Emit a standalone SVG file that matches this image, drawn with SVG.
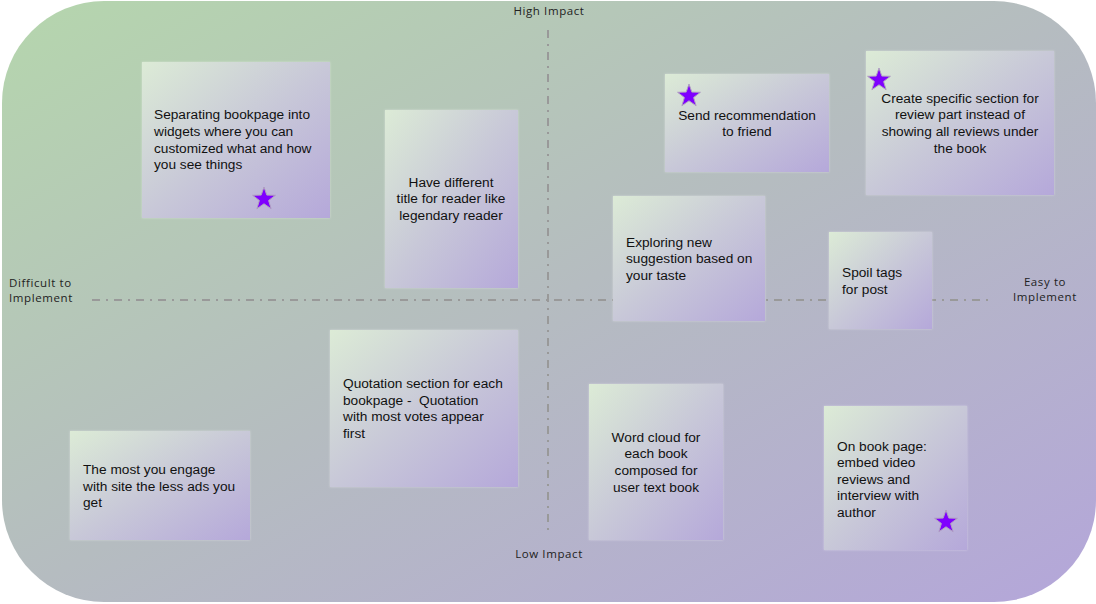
<svg xmlns="http://www.w3.org/2000/svg" width="1096" height="604" viewBox="0 0 1096 604">
<defs>
<linearGradient id="bg" x1="0" y1="0" x2="1" y2="1">
<stop offset="0" stop-color="#b5d6ad"/>
<stop offset="0.5" stop-color="#b5bcc0"/>
<stop offset="1" stop-color="#b4a6da"/>
</linearGradient>
<linearGradient id="note" x1="0" y1="0" x2="1" y2="1">
<stop offset="0" stop-color="#dcebd6"/>
<stop offset="0.5" stop-color="#c8c8d8"/>
<stop offset="1" stop-color="#b5a8da"/>
</linearGradient>
<filter id="sh" x="-10%" y="-10%" width="120%" height="120%">
<feDropShadow dx="0" dy="0" stdDeviation="1" flood-color="#ffffff" flood-opacity="0.4"/>
</filter>
<polygon id="star" points="0,-12 2.8,-3.9 11.4,-3.7 4.6,1.5 7.1,9.7 0,4.8 -7.1,9.7 -4.6,1.5 -11.4,-3.7 -2.8,-3.9" fill="#7f00ff" stroke="#b0a0c0" stroke-width="1"/>
</defs>
<style>
.n{fill:url(#note);filter:url(#sh)}
.t{font-family:"Liberation Sans",Arial,sans-serif;font-size:13.7px;fill:#111;white-space:pre}
.c{text-anchor:middle}
.ax{font-family:"Open Sans","Noto Sans",sans-serif;font-size:11.5px;letter-spacing:0.6px;fill:#222}
.ln{stroke:#999;stroke-width:2;stroke-dasharray:8 6 2 6;fill:none}
</style>
<rect x="2" y="1" width="1094" height="601" rx="102" ry="102" fill="url(#bg)"/>
<g id="axes">
<line class="ln" x1="548" y1="30" x2="548" y2="530"/>
<line class="ln" x1="92" y1="300" x2="990" y2="300"/>
<text class="ax" x="549" y="15" text-anchor="middle">High Impact</text>
<text class="ax" x="549" y="558" text-anchor="middle">Low Impact</text>
<text class="ax" x="9" y="287">Difficult to</text>
<text class="ax" x="9" y="302">Implement</text>
<text class="ax" x="1045" y="286" text-anchor="middle">Easy to</text>
<text class="ax" x="1045" y="301" text-anchor="middle">Implement</text>
</g>
<g id="n1"><rect class="n" x="142" y="62" width="188" height="156"/>
<text class="t"><tspan x="154" y="119">Separating bookpage into</tspan><tspan x="154" y="136">widgets where you can</tspan><tspan x="154" y="153">customized what and how</tspan><tspan x="154" y="169">you see things</tspan></text>
<use href="#star" x="264" y="199"/></g>
<g id="n2"><rect class="n" x="385" y="110" width="133" height="178"/>
<text class="t c"><tspan x="451" y="187">Have different</tspan><tspan x="451" y="203">title for reader like</tspan><tspan x="451" y="220">legendary reader</tspan></text></g>
<g id="n3"><rect class="n" x="665" y="74" width="164" height="98"/>
<use href="#star" x="689" y="96"/>
<text class="t c"><tspan x="747" y="120">Send recommendation</tspan><tspan x="747" y="136">to friend</tspan></text></g>
<g id="n4"><rect class="n" x="866" y="51" width="188" height="144"/>
<use href="#star" x="879" y="80"/>
<text class="t c"><tspan x="960" y="103">Create specific section for</tspan><tspan x="960" y="119">review part instead of</tspan><tspan x="960" y="136">showing all reviews under</tspan><tspan x="960" y="153">the book</tspan></text></g>
<g id="n5"><rect class="n" x="613" y="196" width="152" height="125"/>
<text class="t"><tspan x="626" y="247">Exploring new</tspan><tspan x="626" y="263">suggestion based on</tspan><tspan x="626" y="280">your taste</tspan></text></g>
<g id="n6"><rect class="n" x="829" y="232" width="103" height="97"/>
<text class="t"><tspan x="842" y="277">Spoil tags</tspan><tspan x="842" y="294">for post</tspan></text></g>
<g id="n7"><rect class="n" x="330" y="330" width="188" height="157"/>
<text class="t"><tspan x="343" y="388">Quotation section for each</tspan><tspan x="343" y="405">bookpage -  Quotation</tspan><tspan x="343" y="421">with most votes appear</tspan><tspan x="343" y="438">first</tspan></text></g>
<g id="n8"><rect class="n" x="70" y="431" width="180" height="109"/>
<text class="t"><tspan x="83" y="474">The most you engage</tspan><tspan x="83" y="491">with site the less ads you</tspan><tspan x="83" y="507">get</tspan></text></g>
<g id="n9"><rect class="n" x="589" y="384" width="134" height="156"/>
<text class="t c"><tspan x="656" y="442">Word cloud for</tspan><tspan x="656" y="458">each book</tspan><tspan x="656" y="475">composed for</tspan><tspan x="656" y="492">user text book</tspan></text></g>
<g id="n10"><rect class="n" x="824" y="406" width="143" height="144"/>
<text class="t"><tspan x="837" y="451">On book page:</tspan><tspan x="837" y="467">embed video</tspan><tspan x="837" y="484">reviews and</tspan><tspan x="837" y="500">interview with</tspan><tspan x="837" y="517">author</tspan></text>
<use href="#star" x="946" y="522"/></g>
</svg>
